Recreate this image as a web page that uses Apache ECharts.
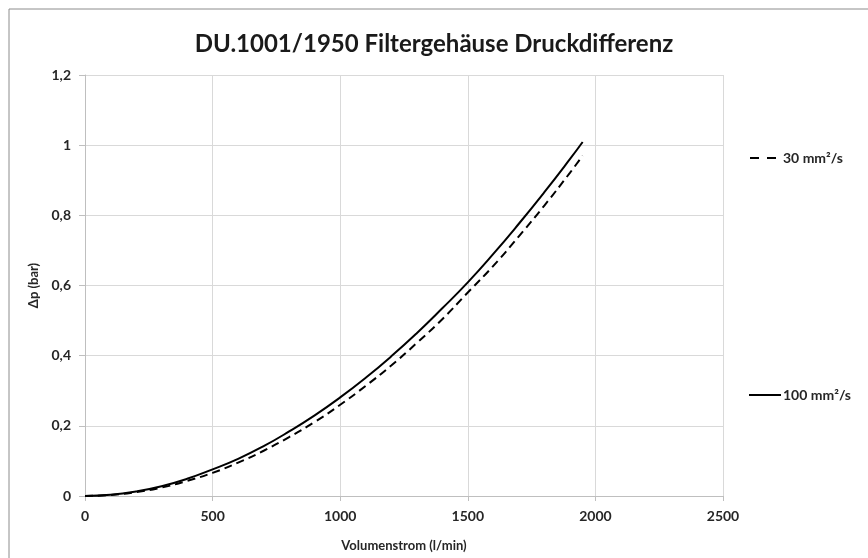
<!DOCTYPE html>
<html>
<head>
<meta charset="utf-8">
<script src="https://cdn.jsdelivr.net/npm/echarts@6/dist/echarts.min.js"></script>
<style>html,body{margin:0;padding:0;background:#fff}#c{width:868px;height:558px}</style>
</head>
<body>
<div id="c"></div>
<script>
const titleText = 'DU.1001/1950 Filtergehäuse Druckdifferenz';
const xName = 'Volumenstrom (l/min)';
const yName = 'Δp (bar)';
const flow = [0, 100, 200, 300, 400, 500, 600, 700, 800, 900, 1000, 1100, 1200, 1300, 1400, 1500, 1600, 1700, 1800, 1900, 1950];
const dp100 = [0, 0.0035, 0.013, 0.028, 0.049, 0.076, 0.106, 0.142, 0.184, 0.230, 0.281, 0.337, 0.398, 0.464, 0.535, 0.609, 0.690, 0.776, 0.866, 0.960, 1.009];
const dp30 = [0, 0.0028, 0.011, 0.024, 0.043, 0.066, 0.095, 0.129, 0.168, 0.211, 0.260, 0.314, 0.372, 0.436, 0.504, 0.580, 0.656, 0.740, 0.828, 0.921, 0.970];
const name30 = '30 mm²/s';
const name100 = '100 mm²/s';

const font = 'Lato, "Open Sans", sans-serif';
const pair = (xs, ys) => xs.map((x, i) => [x, ys[i]]);
const chart = echarts.init(document.getElementById('c'));
chart.setOption({
  animation: false,
  backgroundColor: '#fff',
  graphic: [{type: 'rect', shape: {x: 9, y: 9, width: 900, height: 600}, style: {fill: 'none', stroke: '#8c8c8c', lineWidth: 1}, silent: true}],
  title: {text: titleText, left: 'center', top: 27, textStyle: {fontFamily: font, fontSize: 24, fontWeight: 'bold', color: '#1a1a1a'}},
  grid: {left: 85, right: 145, top: 75, bottom: 62},
  legend: [
    {data: [name30], left: 744, top: 146, orient: 'vertical', itemWidth: 26, itemHeight: 14, itemGap: 4,
      itemStyle: {opacity: 0}, lineStyle: {type: [9, 8], width: 2},
      textStyle: {fontFamily: font, fontSize: 14, fontWeight: 'bold', color: '#262626', padding: [0,0,0,2]}},
    {data: [name100], left: 743, top: 383, orient: 'vertical', itemWidth: 32, itemHeight: 14, itemGap: 2,
      itemStyle: {opacity: 0}, lineStyle: {width: 2},
      textStyle: {fontFamily: font, fontSize: 14, fontWeight: 'bold', color: '#262626', padding: [0,0,0,-3]}}
  ],
  xAxis: {
    type: 'value', min: 0, max: 2500, interval: 500,
    name: xName, nameLocation: 'middle', nameGap: 43,
    nameTextStyle: {fontFamily: font, fontSize: 13, fontWeight: 'bold', color: '#262626'},
    axisLine: {show: true, lineStyle: {color: '#bfbfbf'}},
    axisTick: {show: true, length: 5, lineStyle: {color: '#bfbfbf'}},
    axisLabel: {fontFamily: font, fontSize: 14, fontWeight: 'bold', color: '#262626', margin: 13, formatter: v => String(v)},
    splitLine: {show: true, lineStyle: {color: '#d9d9d9'}}
  },
  yAxis: {
    type: 'value', min: 0, max: 1.2, interval: 0.2,
    name: yName, nameLocation: 'middle', nameGap: 43,
    nameTextStyle: {fontFamily: font, fontSize: 13, fontWeight: 'bold', color: '#262626'},
    axisLine: {show: true, lineStyle: {color: '#bfbfbf'}},
    axisTick: {show: true, length: 6, lineStyle: {color: '#bfbfbf'}},
    axisLabel: {fontFamily: font, fontSize: 14, fontWeight: 'bold', color: '#262626', margin: 14,
      formatter: v => (Math.round(v * 10) / 10).toString().replace('.', ',')},
    splitLine: {show: true, lineStyle: {color: '#d9d9d9'}}
  },
  series: [
    {name: name30, type: 'line', smooth: true, symbol: 'none', data: pair(flow, dp30), lineStyle: {color: '#000', width: 2, type: [8, 5]}, itemStyle: {color: '#000'}},
    {name: name100, type: 'line', smooth: true, symbol: 'none', data: pair(flow, dp100), lineStyle: {color: '#000', width: 2}, itemStyle: {color: '#000'}}
  ]
});
</script>
</body>
</html>
